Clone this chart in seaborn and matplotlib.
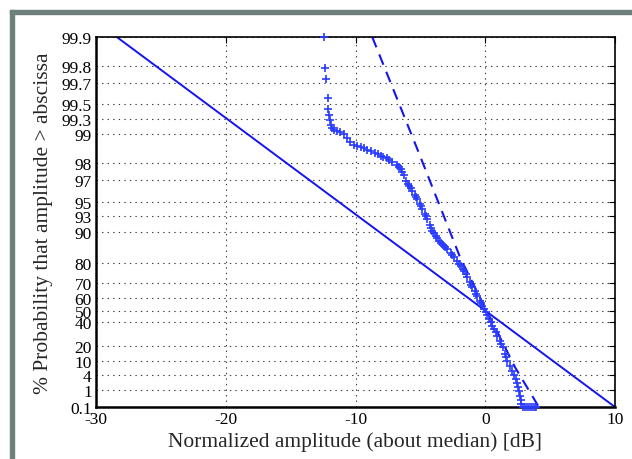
import numpy as np
import matplotlib
matplotlib.use("Agg")
import matplotlib.pyplot as plt
import seaborn as sns
from matplotlib.patches import Rectangle

# ── Data ──────────────────────────────────────────────────────────────────────
# measured fading samples: amplitude about median [dB] vs % probability > abscissa
meas_db = [
    -12.39, -12.37, -12.26, -12.14, -12.09, -12.03, -11.98, -11.89, -11.78, -11.62,
    -11.39, -11.16, -10.90, -10.66, -10.39, -10.15, -9.87, -9.60, -9.38, -9.10,
    -8.84, -8.46, -8.25, -8.07, -7.85, -7.61, -7.40, -7.17, -6.83, -6.68,
    -6.53, -6.40, -6.29, -6.10, -5.98, -5.87, -5.75, -5.62, -5.44, -5.34,
    -5.24, -5.06, -4.95, -4.85, -4.67, -4.55, -4.46, -4.29, -4.18, -4.08,
    -3.95, -3.82, -3.70, -3.57, -3.40, -3.24, -3.08, -2.92, -2.66, -2.55,
    -2.41, -2.15, -2.02, -1.89, -1.75, -1.62, -1.50, -1.37, -1.18, -1.08,
    -0.99, -0.80, -0.70, -0.60, -0.41, -0.30, -0.22, -0.09, 0.03, 0.15,
    0.28, 0.42, 0.55, 0.68, 0.81, 0.94, 1.14, 1.24, 1.33, 1.52,
    1.62, 1.71, 1.91, 2.10, 2.22, 2.36, 2.45, 2.53, 2.61, 2.69,
    2.74, 2.78, 2.90, 3.05, 3.20, 3.35, 3.50, 3.65, 3.80, 3.90,
]
meas_pct = [
    99.9, 99.79, 99.73, 99.57, 99.44, 99.36, 99.28, 99.19, 99.12, 99.09,
    99.06, 99.03, 98.99, 98.90, 98.77, 98.69, 98.65, 98.62, 98.58, 98.54,
    98.50, 98.42, 98.37, 98.31, 98.26, 98.20, 98.13, 98.05, 97.89, 97.80,
    97.69, 97.52, 97.34, 96.93, 96.74, 96.55, 96.35, 96.15, 95.74, 95.53,
    95.32, 94.75, 94.43, 94.10, 93.37, 92.97, 92.56, 91.47, 90.88, 90.29,
    89.68, 89.06, 88.45, 87.83, 87.22, 86.60, 85.98, 85.36, 84.02, 83.25,
    82.47, 80.79, 79.90, 78.99, 77.63, 76.26, 74.77, 73.26, 70.42, 68.90,
    67.38, 64.62, 63.16, 61.69, 58.01, 56.07, 54.13, 51.49, 48.79, 46.09,
    43.13, 40.17, 37.25, 34.33, 31.41, 28.50, 23.65, 21.36, 19.07, 14.34,
    12.29, 10.24, 7.65, 5.52, 4.04, 2.93, 2.06, 1.35, 0.86, 0.52,
    0.29, 0.16, 0.1, 0.1, 0.1, 0.1, 0.1, 0.1, 0.1, 0.1,
]

# Rayleigh reference (solid) and steeper reference curve (dashed)
rayleigh_db = [-28.4, 10.0]
rayleigh_pct = [99.9, 0.1]
dash_db = [-8.71, -5.24, -1.89, 2.28, 4.13]
dash_pct = [99.9, 98.56, 81.8, 7.07, 0.1]

x_ticks = [-30, -20, -10, 0, 10]
y_ticks = [0.1, 1, 4, 10, 20, 40, 50, 60, 70, 80, 90, 93, 95, 97, 98,
           99, 99.3, 99.5, 99.7, 99.8, 99.9]
y_labels = ["0.1", "1", "4", "10", "20", "40", "50", "60", "70", "80", "90",
            "93", "95", "97", "98", "99", "99.3", "99.5", "99.7", "99.8", "99.9"]

BLUE = "#1414f0"
BORDER = "#6d807c"


# Rayleigh probability paper: log10(-ln P) is linear in dB
def fwd(p):
    p = np.clip(np.asarray(p, dtype=float), 1e-6, 100 - 1e-9)
    return -np.log10(-np.log(p / 100.0))


def inv(y):
    return 100.0 * np.exp(-10.0 ** (-np.asarray(y, dtype=float)))


sns.set_theme(style="white")
plt.rcParams["font.family"] = ["Liberation Serif", "DejaVu Serif"]
plt.rcParams["lines.scale_dashes"] = False

fig = plt.figure(figsize=(6.32, 4.60), dpi=100)
ax = fig.add_axes([96 / 632, 1 - 408 / 460, (615 - 96) / 632, (408 - 38) / 460])

sns.lineplot(x=rayleigh_db, y=rayleigh_pct, color=BLUE, linewidth=1.4,
             sort=False, estimator=None, ax=ax)
sns.lineplot(x=dash_db, y=dash_pct, color=BLUE, linewidth=1.5,
             sort=False, estimator=None, ax=ax, linestyle=(0, (8, 5.5)))
sns.scatterplot(x=meas_db, y=meas_pct, marker="+", color="#2a3cff", s=32,
                linewidth=1.2, ax=ax, clip_on=False, zorder=3)

ax.set_yscale("function", functions=(fwd, inv))
ax.set_xlim(-30, 10)
ax.set_ylim(0.1, 99.9)

ax.set_xticks(x_ticks)
ax.set_xticklabels([str(v) for v in x_ticks])
ax.set_yticks(y_ticks)
ax.set_yticklabels(y_labels)
ax.minorticks_off()

ax.tick_params(direction="in", length=4, width=0.8, colors="black",
               labelsize=12.5, top=True, right=True, pad=3)
ax.grid(True, linestyle=(0, (1, 3)), color="0.25", linewidth=0.8)

for side, sp in ax.spines.items():
    sp.set_color("black")
    sp.set_linewidth(1.8 if side in ("left", "bottom") else 1.2)

ax.set_xlabel("Normalized amplitude (about median) [dB]", fontsize=15.5, labelpad=3)
ax.set_ylabel("% Probability that amplitude > abscissa", fontsize=15.5, labelpad=6)

# grey frame around the screenshot (left and top edges)
fig.add_artist(Rectangle((10 / 632, 0), 4 / 632, 1 - 11 / 460,
                         transform=fig.transFigure, color=BORDER, zorder=0))
fig.add_artist(Rectangle((10 / 632, 1 - 15 / 460), 1 - 10 / 632, 4 / 460,
                         transform=fig.transFigure, color=BORDER, zorder=0))

fig.savefig("out.png", dpi=100, facecolor="white")
